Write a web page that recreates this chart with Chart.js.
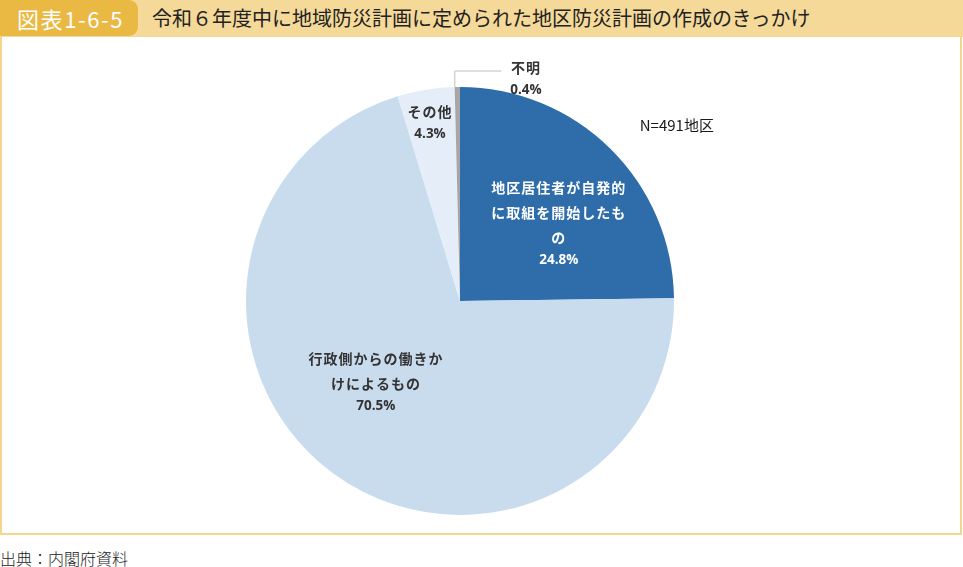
<!DOCTYPE html>
<html lang="ja">
<head>
<meta charset="utf-8">
<script src="https://cdn.jsdelivr.net/npm/chart.js@4.4.1/dist/chart.umd.min.js"></script>
<style>
	html, body { margin: 0; padding: 0; background: #fff; }
	body { width: 963px; height: 567px; position: relative; overflow: hidden; font-family: "Noto Sans CJK JP", "Noto Sans", sans-serif; }
	.band { position: absolute; left: 0; top: 0; width: 963px; height: 37px; background: #F5D998; }
	.tab { position: absolute; left: 0; top: 0; width: 138px; height: 36px; background: #E9B943; border-radius: 0 9px 9px 0; color: #fff; font-size: 22px; line-height: 36px; text-indent: 17px; letter-spacing: 1.6px; }
	.title { position: absolute; left: 152px; top: 0; height: 36px; line-height: 36px; font-size: 20px; color: #222; }
	.frame { position: absolute; left: 0; top: 36px; width: 958px; height: 497px; border: 2.5px solid #F5D68F; border-top: none; }
	.source { position: absolute; left: 0; top: 546px; font-size: 16px; font-weight: 300; color: #222; }
	#chart-wrap { position: absolute; left: 0; top: 0; width: 963px; height: 567px; }
</style>
</head>
<body>
<div class="band"></div>
<div class="frame"></div>
<div class="tab">図表1-6-5</div>
<div class="title">令和６年度中に地域防災計画に定められた地区防災計画の作成のきっかけ</div>
<div class="source">出典：内閣府資料</div>
<div id="chart-wrap"><canvas id="chart-trigger"></canvas></div>

<script>
// Data (clockwise from 12 o'clock)
const CATEGORIES = [
	["地区居住者が自発的", "に取組を開始したも", "の"],
	["行政側からの働きか", "けによるもの"],
	["その他"],
	["不明"],
];
const VALUES = [24.8, 70.5, 4.3, 0.4];
const NOTE = "N=491地区";

const COLORS = ["#2E6DAA", "#C9DCEE", "#E5EEF8", "#A6A6A6"];
const LABEL_COLORS = ["#FFFFFF", "#333333", "#333333", "#333333"];

// Label anchor (percent line) relative to pie centre, in radius units
const LABEL_OFFSET = [
	[0.462, -0.192],
	[-0.393, 0.49],
	[-0.14, -0.78],
	[0.308, -0.986],
];

const CHART_WRAPPER = document.getElementById("chart-trigger");

// Helper plugin for slice labels, leader line and note
const sliceLabels = {
	id: "sliceLabels",
	afterDatasetsDraw(chart) {
		const { ctx } = chart;
		const arcs = chart.getDatasetMeta(0).data;
		const cx = arcs[0].x;
		const cy = arcs[0].y;
		const r = arcs[0].outerRadius;

		ctx.save();
		ctx.textAlign = "center";
		ctx.textBaseline = "middle";

		CATEGORIES.forEach((lines, i) => {
			const x = cx + LABEL_OFFSET[i][0] * r;
			const y = cy + LABEL_OFFSET[i][1] * r;
			ctx.fillStyle = LABEL_COLORS[i];
			ctx.font = "bold 13.5px 'Open Sans', 'Noto Sans', sans-serif";
			ctx.letterSpacing = "0px";
			ctx.fillText(VALUES[i].toFixed(1) + "%", x, y);
			ctx.font = "bold 14px 'Noto Sans CJK JP', sans-serif";
			ctx.letterSpacing = "1px";
			lines.slice().reverse().forEach((line, j) => {
				ctx.fillText(line, x, y - 22 - j * 25);
			});
		});

		// Leader line for the smallest slice
		const last = arcs[arcs.length - 1];
		const mid = (last.startAngle + last.endAngle) / 2;
		const sx = cx + Math.cos(mid) * r;
		const sy = cy + Math.sin(mid) * r;
		ctx.strokeStyle = "#BFBFBF";
		ctx.lineWidth = 1;
		ctx.beginPath();
		ctx.moveTo(sx - 2.5, sy);
		ctx.lineTo(sx - 2.5, sy - 16);
		ctx.lineTo(sx + 44, sy - 16);
		ctx.stroke();

		// Sample size note
		ctx.font = "15px 'Noto Sans CJK JP', sans-serif";
		ctx.letterSpacing = "0px";
		ctx.textAlign = "left";
		ctx.fillStyle = "#1a1a1a";
		ctx.fillText(NOTE, cx + 0.84 * r, cy - 0.82 * r);
		ctx.restore();
	},
};

const CHART_DATA = {
	labels: CATEGORIES.map((l) => l.join("")),
	datasets: [
		{
			data: VALUES,
			backgroundColor: COLORS,
			borderWidth: 0,
		},
	],
};

const CHART_CONFIG = {
	type: "pie",
	data: CHART_DATA,
	options: {
		responsive: false,
		animation: false,
		layout: {
			padding: { left: 246, right: 289, top: 87, bottom: 52 },
		},
		plugins: {
			legend: { display: false },
			tooltip: { enabled: false },
		},
	},
	plugins: [sliceLabels],
};

CHART_WRAPPER.width = 963;
CHART_WRAPPER.height = 567;
if (CHART_WRAPPER) {
	new Chart(CHART_WRAPPER, CHART_CONFIG);
}
</script>
</body>
</html>
